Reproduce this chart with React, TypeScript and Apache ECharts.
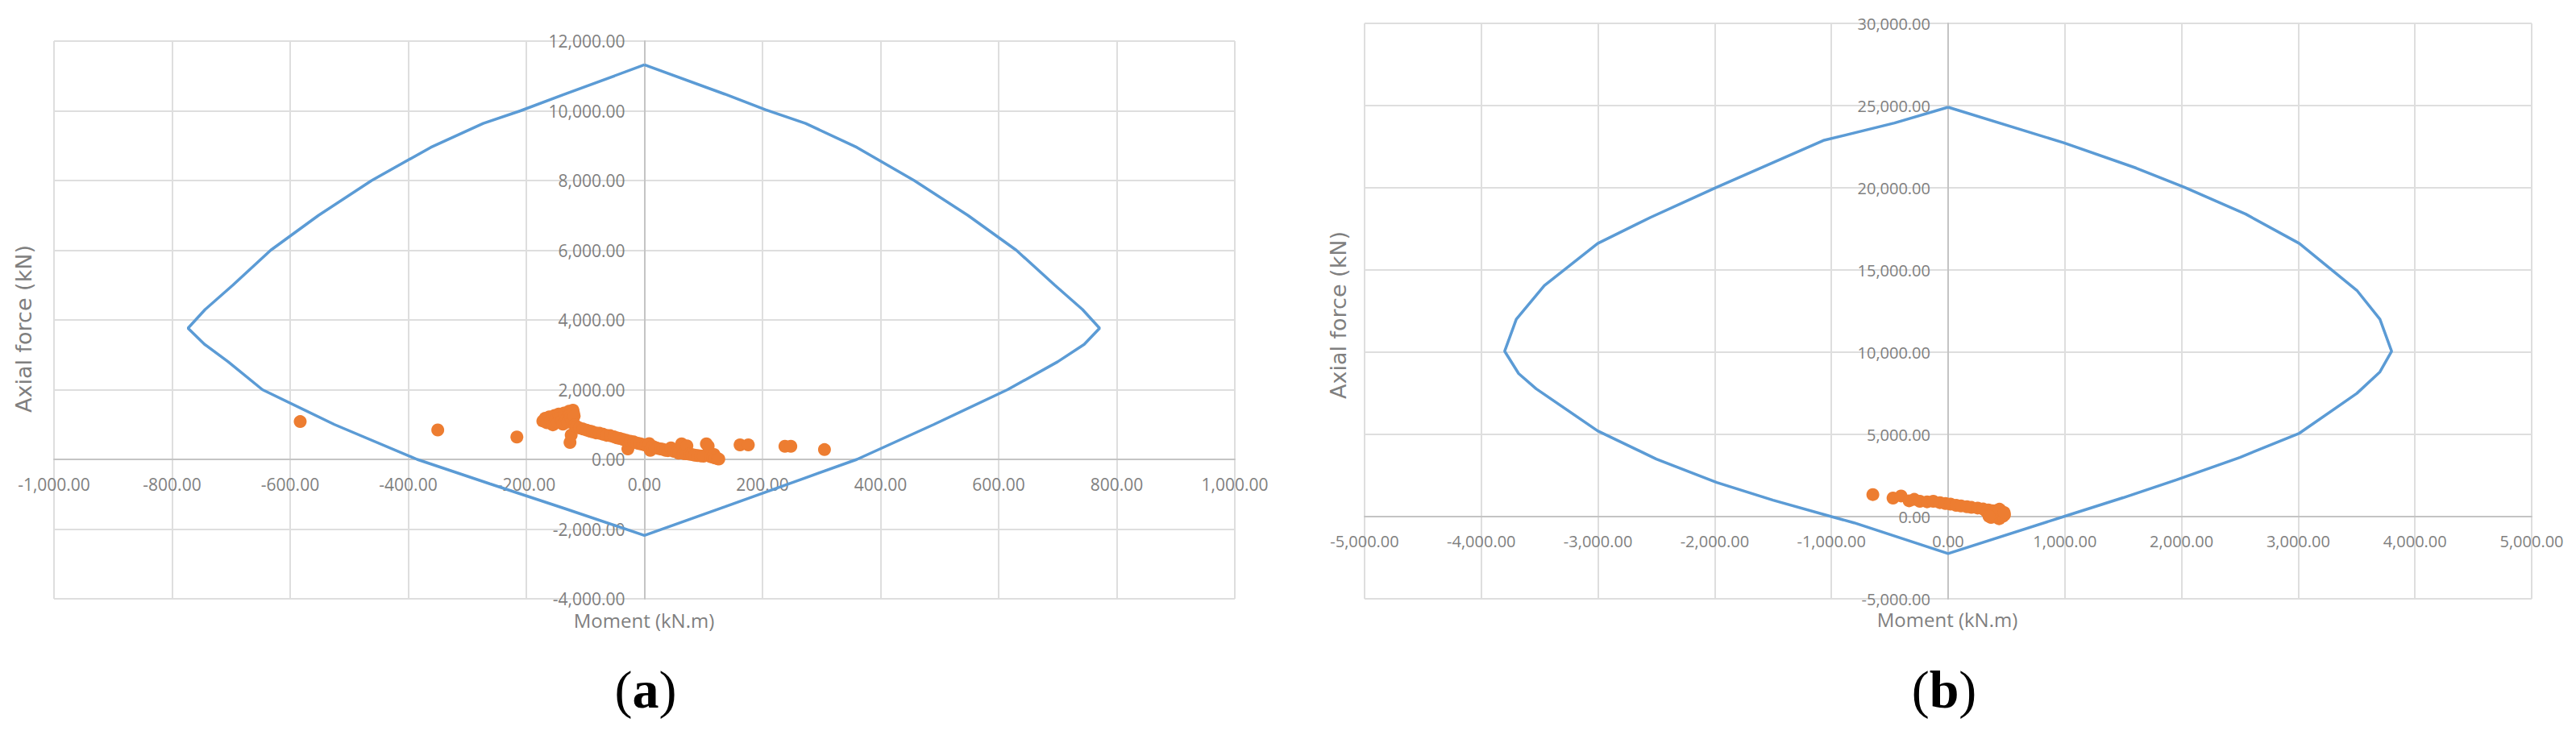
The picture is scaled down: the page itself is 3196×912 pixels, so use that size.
import React, { useEffect, useRef } from "react";
import * as echarts from "echarts";

// ---------- Panel (a) ----------
const axisA_x = { min: -1000, max: 1000, interval: 200 };
const axisA_y = { min: -4000, max: 12000, interval: 2000 };

// interaction curve (Moment kN.m, Axial kN), traced round the loop
const curveA: [number, number][] = [
  [0, 11320], [-136, 10470], [-210, 10000], [-273, 9640], [-362, 8950], [-462, 8000],
  [-552, 7000], [-633, 6000], [-697, 5000], [-744, 4300], [-773, 3764],
  [-745, 3300], [-705, 2800], [-647, 2000], [-525, 1000], [-385, 0], [-262, -700],
  [-136, -1405], [0, -2180],
  [136, -1360], [273, -528], [360, 0], [490, 1000], [615, 2000], [700, 2800],
  [745, 3300], [771, 3764],
  [742, 4300], [695, 5000], [630, 6000], [548, 7000], [457, 8000], [360, 8950],
  [273, 9640], [205, 10030], [136, 10480], [0, 11320],
];

const pointsA: [number, number][] = [
  [-583, 1085], [-350, 844], [-216, 642],
  [-172, 1100], [-168, 1180], [-165, 1050], [-161, 1220], [-158, 1130], [-155, 990],
  [-152, 1260], [-150, 1150], [-147, 1060], [-145, 1300], [-143, 1200], [-140, 1110],
  [-138, 1010], [-136, 1330], [-134, 1250], [-132, 1160], [-130, 1070], [-128, 1380],
  [-126, 1290], [-125, 1200], [-123, 1110], [-121, 1410], [-120, 1330], [-119, 1240],
  [-118, 990], [-126, 485], [-124, 700], [-115, 940], [-110, 900], [-104, 870],
  [-98, 840], [-92, 810], [-88, 790], [-82, 760], [-76, 750], [-70, 720],
  [-64, 690], [-58, 680], [-52, 650], [-47, 620], [-42, 600], [-36, 570],
  [-31, 550], [-28, 300], [-24, 520], [-18, 500], [-13, 470], [-8, 450],
  [-3, 430], [2, 410], [6, 380], [8, 450], [10, 260], [14, 370], [18, 340],
  [22, 320], [27, 300], [31, 290], [36, 260], [40, 250], [45, 330], [50, 230],
  [55, 210], [58, 180], [63, 447], [66, 170], [70, 160], [72, 390], [76, 150],
  [80, 140], [85, 120], [90, 110], [95, 100], [100, 90], [105, 447], [108, 380],
  [112, 80], [116, 60], [118, 140], [120, 40], [124, 20], [126, 10],
  [162, 415], [176, 415], [238, 375], [248, 375], [305, 281],
];

// ---------- Panel (b) ----------
const axisB_x = { min: -5000, max: 5000, interval: 1000 };
const axisB_y = { min: -5000, max: 30000, interval: 5000 };

const curveB: [number, number][] = [
  [0, 24900], [-460, 23940], [-1069, 22877], [-1983, 20028], [-2550, 18200],
  [-3003, 16610], [-3460, 14046], [-3700, 12000], [-3800, 10060],
  [-3680, 8700], [-3530, 7778], [-3003, 5214], [-2500, 3500], [-1983, 2080],
  [-1500, 1000], [-1000, 0], [-806, -377], [0, -2250],
  [990, 0], [1500, 1150], [1957, 2236], [2500, 3600], [3010, 5071], [3502, 7493],
  [3700, 8800], [3800, 10060],
  [3700, 12000], [3502, 13761], [3010, 16610], [2550, 18400], [2025, 20028],
  [1611, 21200], [990, 22740], [0, 24900],
];

const pointsB: [number, number][] = [
  [-645, 1339], [-472, 1128], [-403, 1255], [-334, 961], [-290, 1050], [-242, 932],
  [-180, 900], [-127, 932], [-70, 850], [-23, 799], [20, 760], [69, 687],
  [110, 650], [161, 603], [200, 560], [253, 520], [300, 460], [345, 407],
  [380, 350], [414, 275], [450, 200], [483, 113], [368, -49], [437, -132],
  [330, 300], [360, 150], [400, 60], [420, 380], [460, 300], [470, 20],
  [390, 240], [440, 450], [480, 250], [350, 20],
];

const fmt = (v: number) =>
  v.toLocaleString("en-US", { minimumFractionDigits: 2, maximumFractionDigits: 2 });

const LABEL_FONT = '"Open Sans", "Liberation Sans", sans-serif';
const TITLE_FONT = '"DejaVu Sans", Verdana, sans-serif';
const GRAY = "#7f7f7f";
const BLUE = "#5b9bd5";
const ORANGE = "#ed7d31";

const gridA = { left: 67, top: 51, width: 1465, height: 692 };
const gridB = { left: 1693, top: 29, width: 1448, height: 714 };

// fraction of an axis' span that lies below its zero
const zeroFrac = (ax: any) => (0 - ax.min) / (ax.max - ax.min);

function makeX(idx: number, ax: any, ay: any, grid: any, fontSize: number, margin: number) {
  return {
    type: "value",
    gridIndex: idx,
    position: "bottom",
    offset: -grid.height * zeroFrac(ay),
    min: ax.min,
    max: ax.max,
    interval: ax.interval,
    axisLine: { show: true, onZero: false, lineStyle: { color: "#c4c4c4", width: 2 } },
    axisTick: { show: false },
    axisLabel: {
      formatter: fmt,
      color: GRAY,
      fontFamily: LABEL_FONT,
      fontSize,
      margin,
      showMinLabel: true,
      showMaxLabel: true,
      hideOverlap: false,
    },
    splitLine: { show: true, lineStyle: { color: "#dedede", width: 2 } },
  };
}

function makeY(idx: number, ay: any, ax: any, grid: any, fontSize: number, margin: number) {
  return {
    type: "value",
    gridIndex: idx,
    position: "left",
    offset: -grid.width * zeroFrac(ax),
    min: ay.min,
    max: ay.max,
    interval: ay.interval,
    axisLine: { show: true, onZero: false, lineStyle: { color: "#c4c4c4", width: 2 } },
    axisTick: { show: false },
    axisLabel: {
      formatter: fmt,
      color: GRAY,
      fontFamily: LABEL_FONT,
      fontSize,
      margin,
      showMinLabel: true,
      showMaxLabel: true,
      hideOverlap: false,
    },
    splitLine: { show: true, lineStyle: { color: "#dedede", width: 2 } },
  };
}

const serifRich = (size: number) => ({
  p: { fontFamily: '"Liberation Serif", serif', fontSize: size, fill: "#000" },
  b: { fontFamily: '"Liberation Serif", serif', fontSize: size, fontWeight: "bold", fill: "#000" },
});

export default function App() {
  const ref = useRef<HTMLDivElement>(null);
  useEffect(() => {
    if (!ref.current) return;
    const chart = echarts.init(ref.current, undefined, { renderer: "svg" });
    chart.setOption({
      animation: false,
      backgroundColor: "#ffffff",
      grid: [
        { ...gridA, outerBoundsMode: "none", containLabel: false },
        { ...gridB, outerBoundsMode: "none", containLabel: false },
      ],
      xAxis: [
        makeX(0, axisA_x, axisA_y, gridA, 21, 20),
        makeX(1, axisB_x, axisB_y, gridB, 20, 20),
      ],
      yAxis: [
        makeY(0, axisA_y, axisA_x, gridA, 21, 24),
        makeY(1, axisB_y, axisB_x, gridB, 20, 22),
      ],
      series: [
        {
          type: "line",
          xAxisIndex: 0,
          yAxisIndex: 0,
          data: curveA,
          showSymbol: false,
          lineStyle: { color: BLUE, width: 3.5 },
          z: 3,
        },
        {
          type: "scatter",
          xAxisIndex: 0,
          yAxisIndex: 0,
          data: pointsA,
          symbolSize: 16,
          itemStyle: { color: ORANGE, opacity: 1 },
          z: 4,
        },
        {
          type: "line",
          xAxisIndex: 1,
          yAxisIndex: 1,
          data: curveB,
          showSymbol: false,
          lineStyle: { color: BLUE, width: 3.5 },
          z: 3,
        },
        {
          type: "scatter",
          xAxisIndex: 1,
          yAxisIndex: 1,
          data: pointsB,
          symbolSize: 16,
          itemStyle: { color: ORANGE, opacity: 1 },
          z: 4,
        },
      ],
      graphic: [
        {
          type: "text",
          x: 29,
          y: 408,
          rotation: Math.PI / 2,
          style: {
            text: "Axial force (kN)",
            fill: GRAY,
            font: `27px ${TITLE_FONT}`,
            align: "center",
            verticalAlign: "middle",
          },
        },
        {
          type: "text",
          x: 1660,
          y: 391,
          rotation: Math.PI / 2,
          style: {
            text: "Axial force (kN)",
            fill: GRAY,
            font: `27px ${TITLE_FONT}`,
            align: "center",
            verticalAlign: "middle",
          },
        },
        {
          type: "text",
          x: 799,
          y: 769,
          style: {
            text: "Moment (kN.m)",
            fill: GRAY,
            font: `24px ${LABEL_FONT}`,
            align: "center",
            verticalAlign: "middle",
          },
        },
        {
          type: "text",
          x: 2416,
          y: 768,
          style: {
            text: "Moment (kN.m)",
            fill: GRAY,
            font: `24px ${LABEL_FONT}`,
            align: "center",
            verticalAlign: "middle",
          },
        },
        {
          type: "text",
          x: 801,
          y: 855,
          style: {
            text: "{p|(}{b|a}{p|)}",
            align: "center",
            verticalAlign: "middle",
            rich: serifRich(66),
          },
        },
        {
          type: "text",
          x: 2412,
          y: 855,
          style: {
            text: "{p|(}{b|b}{p|)}",
            align: "center",
            verticalAlign: "middle",
            rich: serifRich(66),
          },
        },
      ],
    });
    return () => chart.dispose();
  }, []);
  return (
    <div
      ref={ref}
      style={{ position: "absolute", left: 0, top: 0, width: 3196, height: 912, background: "#fff" }}
    />
  );
}
